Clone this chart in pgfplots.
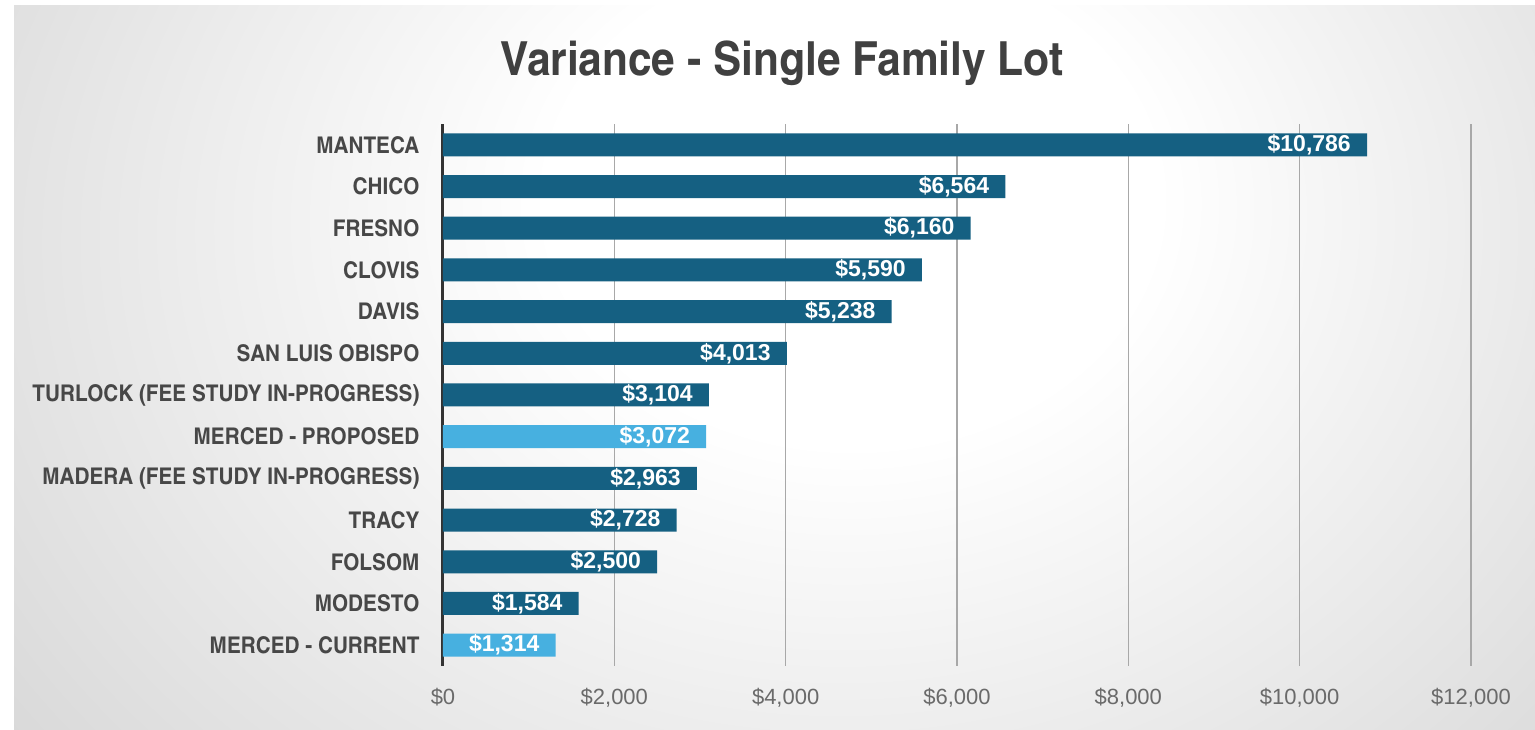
\documentclass[border=0pt]{standalone}
\usepackage{pgfplots}
\pgfplotsset{compat=1.18}
\usepackage{fontspec}
\setmainfont{Liberation Sans}
\newfontfamily\labfont{texgyreheroscn-bold.otf}[FakeStretch=1.1]
\newfontfamily\titlefont{texgyreheroscn-bold.otf}[FakeStretch=1.1]
\newfontfamily\tickfont{Liberation Sans}
\definecolor{dark}{HTML}{156082}
\definecolor{light}{HTML}{47B0E0}
\definecolor{txt}{HTML}{404040}
\definecolor{labtxt}{HTML}{474747}
\definecolor{ticktxt}{HTML}{6A6A6A}
\definecolor{gridc}{HTML}{A8A8A8}
\pgfdeclareradialshading{bgshade}{\pgfpoint{3bp}{8bp}}{color(0bp)=(white); color(10bp)=(white); color(50bp)=(black!26); color(71bp)=(black!29)}
\begin{document}
\begin{tikzpicture}[x=1pt,y=1pt]
\useasboundingbox (0,0) rectangle (1535,730);
\fill[white] (0,0) rectangle (1535,730);
\begin{scope}
\clip (14,0) rectangle (1535,724);
\shade[shading=bgshade] (14,-250) rectangle (1535,974);
\end{scope}
\node[anchor=base, font=\titlefont\fontsize{47}{56}\selectfont, text=txt, inner sep=0pt] at (782,654) {Variance - Single Family Lot};
\begin{axis}[
  at={(443pt,64pt)}, anchor=south west,
  scale only axis, width=1028pt, height=542pt,
  xmin=0, xmax=12000, ymin=-0.5, ymax=12.5,
  xbar, bar width=23pt, bar shift=0pt,
  axis x line*=bottom, axis y line*=left,
  x axis line style={draw=none},
  y axis line style={-, line width=3pt, color=black!80},
  xtick={0,2000,4000,6000,8000,10000,12000},
  xticklabels={{\$0},{\$2,000},{\$4,000},{\$6,000},{\$8,000},{\$10,000},{\$12,000}},
  ytick={0,1,2,3,4,5,6,7,8,9,10,11,12},
  yticklabels={MERCED - CURRENT, MODESTO\ , FOLSOM, TRACY, MADERA (FEE STUDY IN-PROGRESS), MERCED - PROPOSED, TURLOCK (FEE STUDY IN-PROGRESS), SAN LUIS OBISPO, DAVIS, CLOVIS, FRESNO, CHICO, MANTECA},
  major tick length=0pt,
  xmajorgrids, ymajorgrids=false,
  major grid style={line width=1.6pt, color=gridc},
  xticklabel style={font=\tickfont\fontsize{22}{24}\selectfont, text=ticktxt, anchor=north, yshift=-19pt},
  yticklabel style={font=\labfont\fontsize{23}{26}\selectfont, text=labtxt, anchor=east, xshift=-20pt},
  nodes near coords={\$\pgfmathprintnumber[assume math mode=true,fixed,precision=0,1000 sep={,}]{\pgfplotspointmeta}},
  point meta=x,
  every node near coord/.append style={anchor=east, xshift=-16pt, inner sep=0pt, font=\bfseries\fontsize{23}{25}\selectfont, text=white},
  clip=false,
]
\addplot[fill=dark, draw=none] coordinates {(1584,1) (2500,2) (2728,3) (2963,4) (3104,6) (4013,7) (5238,8) (5590,9) (6160,10) (6564,11) (10786,12)};
\addplot[fill=light, draw=none] coordinates {(1314,0) (3072,5)};
\end{axis}
\end{tikzpicture}
\end{document}
